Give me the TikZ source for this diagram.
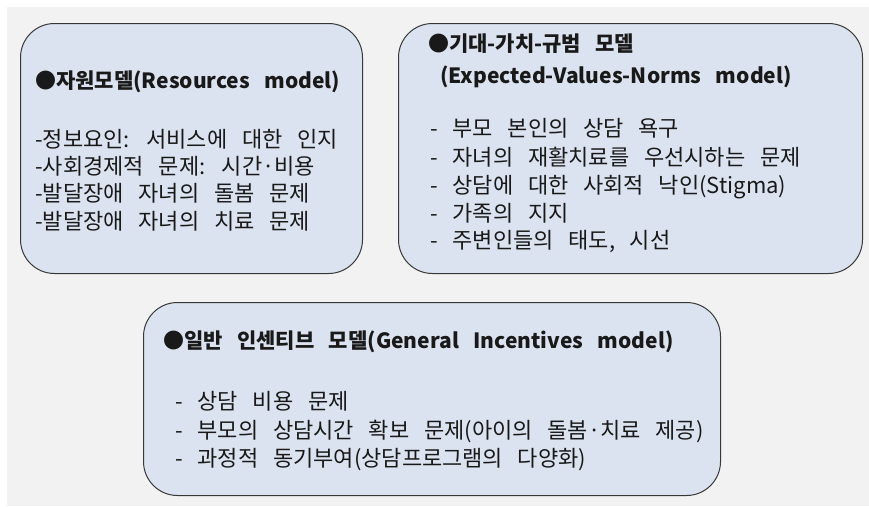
\documentclass[tikz,border=0pt]{standalone}
\usepackage{fontspec}
\setmainfont{Noto Sans CJK KR}[WordSpace=3]
\begin{document}
\begin{tikzpicture}[x=1pt,y=-1pt,
  panel/.style={draw=black!78,line width=1pt,fill=panelblue,rounded corners=34pt,
    inner sep=0pt,anchor=north west},
  body/.style={anchor=base west,inner sep=0pt,text=black!90,
    font=\fontsize{22}{26}\selectfont},
  head/.style={body,font=\fontsize{21}{25}\selectfont\bfseries}]
\definecolor{panelblue}{HTML}{DCE3F0}
\useasboundingbox (0,0) rectangle (869,506);
\fill[white] (0,0) rectangle (869,506);
\fill[black!5] (7,7) rectangle (869,506);

% three model panels
\node[panel,minimum width=342pt,minimum height=250pt] (res) at (20,23) {};
\node[panel,minimum width=464pt,minimum height=250pt] (evn) at (398,23) {};
\node[panel,minimum width=577pt,minimum height=193pt] (gin) at (143,302) {};

% resources model
\node[head] (r0) at (35,88) {●자원모델(Resources model)};
\node[body] (r1) at (35,147) {-정보요인: 서비스에 대한 인지};
\node[body] (r2) at (35,174) {-사회경제적 문제: 시간·비용};
\node[body] (r3) at (35,201) {-발달장애 자녀의 돌봄 문제};
\node[body] (r4) at (35,229) {-발달장애 자녀의 치료 문제};

% expected-values-norms model
\node[head] (e0) at (428,51) {●기대-가치-규범 모델};
\node[head] (e0b) at (440,83) {(Expected-Values-Norms model)};
\node[body] (e1) at (430,136) {- 부모 본인의 상담 욕구};
\node[body] (e2) at (430,165) {- 자녀의 재활치료를 우선시하는 문제};
\node[body] (e3) at (430,193) {- 상담에 대한 사회적 낙인(Stigma)};
\node[body] (e4) at (430,221) {- 가족의 지지};
\node[body] (e5) at (430,248) {- 주변인들의 태도, 시선};

% general incentives model
\node[head] (g0) at (163,348) {●일반 인센티브 모델(General Incentives model)};
\node[body] (g1) at (175,409) {- 상담 비용 문제};
\node[body] (g2) at (175,438) {- 부모의 상담시간 확보 문제(아이의 돌봄·치료 제공)};
\node[body] (g3) at (175,466) {- 과정적 동기부여(상담프로그램의 다양화)};
\end{tikzpicture}
\end{document}
